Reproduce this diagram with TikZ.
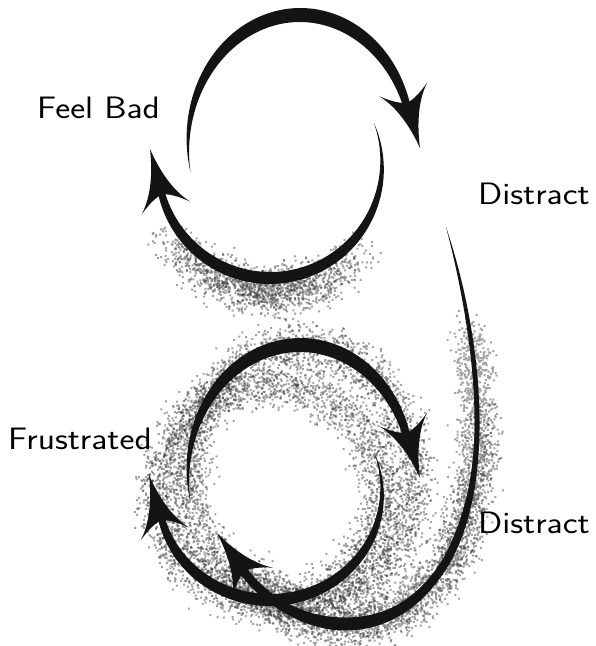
\documentclass[tikz,border=0pt]{standalone}
\usepackage{fontspec}
\usepackage{graphicx}
\newcommand\cusparrow[3]{%
  \fill[ink, shift={(#1,#2)}, rotate=#3]
    (0,0) .. controls (-20,3) and (-45,10) .. (-61,25)
          .. controls (-52,14) and (-48,6) .. (-47,0)
          .. controls (-48,-6) and (-52,-14) .. (-61,-25)
          .. controls (-45,-10) and (-20,-3) .. (0,0) -- cycle;}
\newcommand\lbltext[1]{\scalebox{1.15}[1]{#1}}
\begin{document}
\begin{tikzpicture}[x=1pt,y=-1pt,
  ink/.style={fill=black!92},
  dot/.style={fill=black!80},
  lbl/.style={font=\sffamily\fontsize{31}{33}\selectfont, inner sep=0pt, anchor=base west},
  declare function={
    wA(\t)=14*sin(0.8523*(192-\t));
    wB(\t)=12*sin(0.7713*(22-\t));
    cub(\tp,\ta,\tb,\tc,\td)=(1-\tp)^3*\ta+3*(1-\tp)^2*\tp*\tb+3*(1-\tp)*\tp^2*\tc+\tp^3*\td;
  }]
\useasboundingbox (0,0) rectangle (596,646);
\fill[white] (0,0) rectangle (596,646);
\pgfmathsetseed{7}
\begin{scope}[fill opacity=0.45]
% spray under the upper loop
\foreach \k in {1,...,4}{
\fill[dot] \foreach \i [evaluate=\i as \th using {-95+30*(rand+rand)}, evaluate=\i as \dd using {12+11*(rand+rand+rand)}] in {1,...,400}
  { ({270+(112+\dd)*cos(\th)+4*rand},{165-(113+\dd)*sin(\th)+4*rand}) rectangle ++(2,2) };}
% spray around the lower loop
\foreach \k in {1,...,9}{
\fill[dot] \foreach \i [evaluate=\i as \th using {rnd*360}] in {1,...,400}
  { ({300+112*cos(\th)+11*(rand+rand+rand)},{475-130*sin(\th)+11*(rand+rand+rand)}) rectangle ++(2,2) };}
\foreach \k in {1,...,8}{
\fill[dot] \foreach \i [evaluate=\i as \th using {rnd*360}] in {1,...,400}
  { ({270+112*cos(\th)+11*(rand+rand+rand)},{492-108*sin(\th)+11*(rand+rand+rand)}) rectangle ++(2,2) };}
% spray along the long stroke
\fill[dot] \foreach \i [evaluate=\i as \tp using {rnd}] in {1,...,400}
  { ({cub(\tp,468,474,477,477)+9*(rand+rand+rand)},{cub(\tp,330,360,390,415)+9*(rand+rand+rand)}) rectangle ++(2,2) };
\foreach \k in {1,...,3}{
\fill[dot] \foreach \i [evaluate=\i as \tp using {rnd}] in {1,...,370}
  { ({cub(\tp,477,478,466,447)+11*(rand+rand+rand)},{cub(\tp,415,480,525,560)+11*(rand+rand+rand)}) rectangle ++(2,2) };
\fill[dot] \foreach \i [evaluate=\i as \tp using {rnd}] in {1,...,370}
  { ({cub(\tp,447,420,385,345)+11*(rand+rand+rand)},{cub(\tp,560,605,624,624)+11*(rand+rand+rand)}) rectangle ++(2,2) };
\fill[dot] \foreach \i [evaluate=\i as \tp using {rnd}] in {1,...,300}
  { ({cub(\tp,345,300,262,242)+11*(rand+rand+rand)},{cub(\tp,624,624,597,569)+11*(rand+rand+rand)}) rectangle ++(2,2) };}
\end{scope}

% upper loop, stroke over the top
\fill[ink] plot[domain=192:14, samples=90, variable=\t]
   ({300+(112+wA(\t)/2)*cos(\t)}, {145-(130+wA(\t)/2)*sin(\t)})
 -- plot[domain=14:192, samples=90, variable=\t]
   ({300+(112-wA(\t)/2)*cos(\t)}, {145-(130-wA(\t)/2)*sin(\t)}) -- cycle;
\cusparrow{420}{148}{-74}
% upper loop, stroke round the bottom
\fill[ink] plot[domain=22:-170, samples=90, variable=\t]
   ({270+(112+wB(\t)/2)*cos(\t)}, {165-(113+wB(\t)/2)*sin(\t)})
 -- plot[domain=-170:22, samples=90, variable=\t]
   ({270+(112-wB(\t)/2)*cos(\t)}, {165-(113-wB(\t)/2)*sin(\t)}) -- cycle;
\cusparrow{150}{149}{105}

% lower loop, stroke over the top
\fill[ink] plot[domain=192:14, samples=90, variable=\t]
   ({300+(112+wA(\t)/2)*cos(\t)}, {475-(130+wA(\t)/2)*sin(\t)})
 -- plot[domain=14:192, samples=90, variable=\t]
   ({300+(112-wA(\t)/2)*cos(\t)}, {475-(130-wA(\t)/2)*sin(\t)}) -- cycle;
\cusparrow{420}{478}{-74}
% lower loop, stroke round the bottom
\fill[ink] plot[domain=22:-170, samples=90, variable=\t]
   ({270+(112+wB(\t)/2)*cos(\t)}, {492-(108+wB(\t)/2)*sin(\t)})
 -- plot[domain=-170:22, samples=90, variable=\t]
   ({270+(112-wB(\t)/2)*cos(\t)}, {492-(108-wB(\t)/2)*sin(\t)}) -- cycle;
\cusparrow{149}{475}{105}

% long stroke from the upper Distract down and round
\fill[ink] (446,227) .. controls (464,280) and (478.5,350) .. (479.5,415)
   .. controls (480.5,480) and (469.5,527) .. (450.5,562)
   .. controls (423,609) and (386,630.5) .. (345,630.5)
   .. controls (300,630.5) and (258.4,599.6) .. (238.4,571.6)
   -- (245.6,566.4)
   .. controls (265.6,594.4) and (300,617.5) .. (345,617.5)
   .. controls (384,617.5) and (417,601) .. (443.5,558)
   .. controls (462,523) and (475.5,480) .. (474.5,415)
   .. controls (473.5,350) and (460,280) .. (446,227) -- cycle;
\cusparrow{217}{533}{126}

% labels
\node[lbl] (feelbad) at (37,118) {\lbltext{Feel Bad}};
\node[lbl] (distract1) at (478,204) {\lbltext{Distract}};
\node[lbl] (frustrated) at (8,449) {\lbltext{Frustrated}};
\node[lbl] (distract2) at (478,533) {\lbltext{Distract}};
\end{tikzpicture}
\end{document}
